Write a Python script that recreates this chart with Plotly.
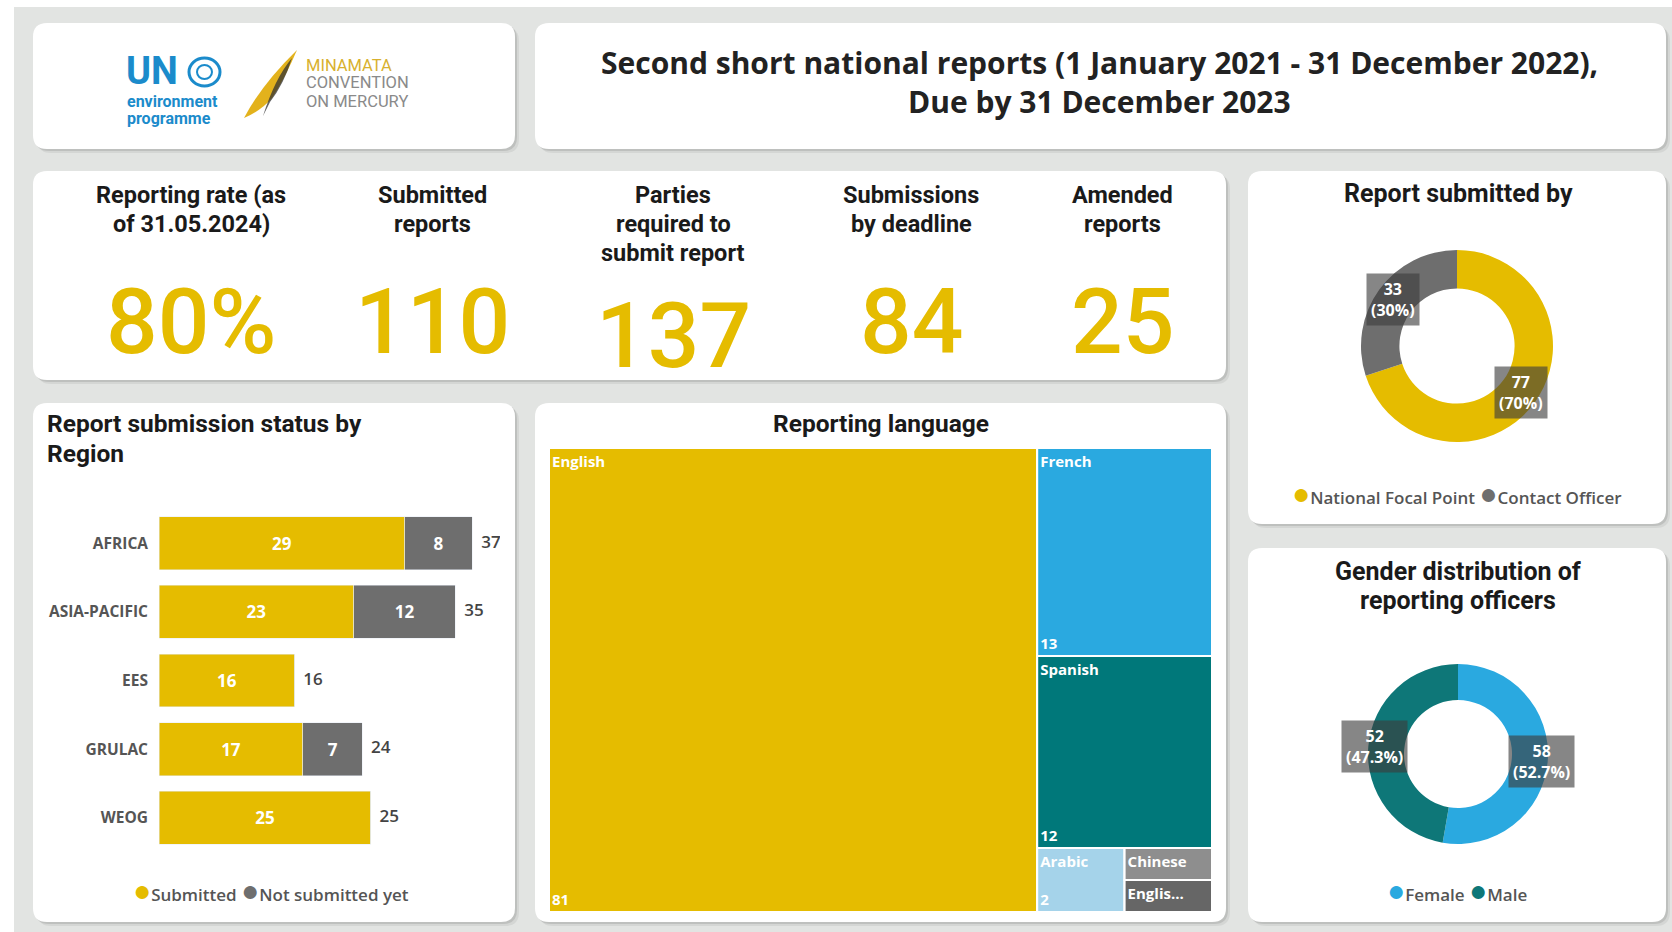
import math
import plotly.graph_objects as go

W, H = 1672, 932

# ---- data ----
kpi_titles = ["Reporting rate (as<br>of 31.05.2024)", "Submitted<br>reports",
              "Parties<br>required to<br>submit report", "Submissions<br>by deadline", "Amended<br>reports"]
kpi_values = ["80%", "110", "137", "84", "25"]

regions = ["AFRICA", "ASIA-PACIFIC", "EES", "GRULAC", "WEOG"]
submitted = [29, 23, 16, 17, 25]
not_submitted = [8, 12, 0, 7, 0]

lang_labels = ["English", "French", "Spanish", "Arabic", "Chinese", "Englis..."]
lang_values = [81, 13, 12, 2, 1, 1]

submitter_labels = ["National Focal Point", "Contact Officer"]
submitter_values = [77, 33]

gender_labels = ["Female", "Male"]
gender_values = [58, 52]

# ---- styling ----
YELLOW = "#E5BC00"
GREY = "#6E6E6E"
BG = "#E2E4E2"
lang_colors = ["#E5BC00", "#2AA9E0", "#00787A", "#A5D3EA", "#8E8E8E", "#666666"]
submitter_colors = [YELLOW, GREY]
gender_colors = ["#2AA9E0", "#0E7778"]
HEAD = "Roboto"
BODY = "Open Sans"


def fx(x):
    return x / W


def fy(y):
    return 1 - y / H


def rounded(x0, y0, x1, y1, r=14):
    rx, ry = r / W, r / H
    X0, X1, Y0, Y1 = fx(x0), fx(x1), fy(y0), fy(y1)
    return (f"M {X0+rx},{Y0} L {X1-rx},{Y0} Q {X1},{Y0} {X1},{Y0-ry} "
            f"L {X1},{Y1+ry} Q {X1},{Y1} {X1-rx},{Y1} L {X0+rx},{Y1} "
            f"Q {X0},{Y1} {X0},{Y1+ry} L {X0},{Y0-ry} Q {X0},{Y0} {X0+rx},{Y0} Z")


shapes = [dict(type="rect", xref="paper", yref="paper", x0=fx(14), x1=1, y0=0, y1=fy(7),
               fillcolor=BG, line_width=0, layer="below")]
cards = [(33, 23, 515, 149), (535, 23, 1666, 149), (33, 171, 1226, 380),
         (1248, 171, 1666, 524), (33, 403, 515, 922), (535, 403, 1226, 922),
         (1248, 548, 1666, 922)]
for (a, b, c, d) in cards:
    for off, alpha in [(4, 0.06), (2, 0.10)]:
        shapes.append(dict(type="path", xref="paper", yref="paper", layer="below",
                           path=rounded(a + off, b + off, c + off, d + off),
                           fillcolor=f"rgba(0,0,0,{alpha})", line_width=0))
    shapes.append(dict(type="path", xref="paper", yref="paper", layer="below",
                       path=rounded(a, b, c, d), fillcolor="white", line_width=0))

annotations = []


def text(t, x, y, size, color="#1a1a1a", family=HEAD, weight="bold", xanchor="center", **kw):
    annotations.append(dict(text=t, x=fx(x), y=fy(y), xref="paper", yref="paper",
                            xanchor=xanchor, yanchor="middle", showarrow=False,
                            font=dict(size=size, color=color, family=family, weight=weight), **kw))


# ---- logo ----
text("UN", 124, 71, 38, color="#1B8BCB", xanchor="left")
shapes.append(dict(type="circle", xref="paper", yref="paper", x0=fx(189), x1=fx(220), y0=fy(86), y1=fy(58),
                   line=dict(color="#1B8BCB", width=3)))
shapes.append(dict(type="circle", xref="paper", yref="paper", x0=fx(197), x1=fx(212), y0=fy(79), y1=fy(65),
                   line=dict(color="#1B8BCB", width=2)))
text("environment", 125, 101, 16, color="#1B8BCB", xanchor="left")
text("programme", 125, 118, 16, color="#1B8BCB", xanchor="left")
feather = [(244, 118), (262, 84), (297, 50), (285, 78), (272, 98), (262, 110)]
p = [(fx(a), fy(b)) for a, b in feather]
shapes.append(dict(type="path", xref="paper", yref="paper",
                   path=f"M {p[0][0]},{p[0][1]} Q {p[1][0]},{p[1][1]} {p[2][0]},{p[2][1]} "
                        f"Q {p[3][0]},{p[3][1]} {p[4][0]},{p[4][1]} Q {p[5][0]},{p[5][1]} {p[0][0]},{p[0][1]} Z",
                   fillcolor="#E3B21C", line_width=0))
q = [(fx(a), fy(b)) for a, b in [(263, 116), (275, 78), (292, 58), (284, 84), (270, 102)]]
shapes.append(dict(type="path", xref="paper", yref="paper",
                   path=f"M {q[0][0]},{q[0][1]} Q {q[1][0]},{q[1][1]} {q[2][0]},{q[2][1]} "
                        f"Q {q[3][0]},{q[3][1]} {q[4][0]},{q[4][1]} Z",
                   fillcolor="rgba(50,50,50,0.75)", line_width=0))
text("MINAMATA", 304, 65, 16.5, color="#D8B12F", weight="normal", xanchor="left")
text("CONVENTION", 304, 83, 16.5, color="#8A8A8A", weight="normal", xanchor="left")
text("ON MERCURY", 304, 101, 16.5, color="#8A8A8A", weight="normal", xanchor="left")

# ---- main title ----
text("Second short national reports (1 January 2021 - 31 December 2022),", 1099, 62, 30, family=BODY, color="#222")
text("Due by 31 December 2023", 1099, 102, 30, family=BODY, color="#222")

# ---- KPIs ----
kpi_x = [191, 432, 673, 911, 1122]
for t, v, cx in zip(kpi_titles, kpi_values, kpi_x):
    lines = t.split("<br>")
    for i, ln in enumerate(lines):
        text(ln, cx, 195 + 29 * i, 23.5)
    text(v, cx, 322 + 14 * (len(lines) - 2), 91, color=YELLOW, weight=500)

# ---- card titles ----
text("Report submission status by", 45, 423, 24.5, xanchor="left")
text("Region", 45, 454, 24.5, xanchor="left")
text("Reporting language", 881, 423, 24.5)
text("Report submitted by", 1458, 193, 25)
text("Gender distribution of", 1458, 571, 25)
text("reporting officers", 1458, 600, 25)


def legend_text(labels, colors):
    return " ".join(f"<span style='color:{c};font-size:30px'>●</span>{l}" for l, c in zip(labels, colors))


for lab, col, lx, ly in [(["Submitted", "Not submitted yet"], [YELLOW, GREY], 271, 889),
                         (submitter_labels, submitter_colors, 1457, 492),
                         (gender_labels, gender_colors, 1457, 889)]:
    text(legend_text(lab, col), lx, ly, 17, family=BODY, color="#555", weight=600)

fig = go.Figure()

# ---- bar chart ----
fig.add_trace(go.Bar(y=regions, x=submitted, orientation="h", marker_color=YELLOW,
                     text=[str(v) for v in submitted], textposition="inside", insidetextanchor="middle",
                     textfont=dict(color="white", size=17, family=BODY, weight="bold"),
                     name="Submitted", showlegend=False))
fig.add_trace(go.Bar(y=regions, x=not_submitted, orientation="h", marker_color=GREY,
                     text=[str(v) if v else "" for v in not_submitted], textposition="inside",
                     insidetextanchor="middle",
                     textfont=dict(color="white", size=17, family=BODY, weight="bold"),
                     name="Not submitted yet", showlegend=False))
totals = [a + b for a, b in zip(submitted, not_submitted)]
fig.add_trace(go.Scatter(y=regions, x=totals, mode="text", text=[f"  {t}" for t in totals],
                         textposition="middle right",
                         textfont=dict(color="#444", size=17, family=BODY, weight=600),
                         showlegend=False, hoverinfo="skip"))

# ---- treemap ----
# hidden grouping nodes so that slice/dice tiling reproduces the report layout
node_order = ["all", "English", "rest", "French", "Spanish", "small", "Arabic", "tiny", "Chinese", "Englis..."]
group_parent = {"all": "", "rest": "all", "small": "rest", "tiny": "small"}
leaf_parent = dict(zip(lang_labels, ["all", "rest", "rest", "small", "tiny", "tiny"]))
leaf_value = dict(zip(lang_labels, lang_values))
leaf_color = dict(zip(lang_labels, lang_colors))

tm_parents = [group_parent.get(n, leaf_parent.get(n)) for n in node_order]
tm_labels = [n if n in leaf_value else "" for n in node_order]
tm_values = [leaf_value.get(n, 0) for n in node_order]
tm_colors = [leaf_color.get(n, "rgba(0,0,0,0)") for n in node_order]
tm_label_tpl = ["<b>%{label}</b>" if n in leaf_value else "" for n in node_order]
tm_value_tpl = ["<b>%{value}</b>" if n in leaf_value and leaf_value[n] > 1 else "" for n in node_order]

tm_domain = dict(x=[fx(549), fx(1212)], y=[fy(912), fy(448)])
no_pad = dict(t=0, l=0, r=0, b=0)
common = dict(ids=node_order, labels=tm_labels, parents=tm_parents, values=tm_values,
              branchvalues="remainder", domain=tm_domain, sort=False,
              pathbar=dict(visible=False), tiling=dict(packing="slice-dice", pad=0),
              textfont=dict(color="white", size=15, family=BODY))
fig.add_trace(go.Treemap(**common,
                         marker=dict(colors=tm_colors, line=dict(color="white", width=2), pad=no_pad),
                         texttemplate=tm_label_tpl, textposition="top left"))
fig.add_trace(go.Treemap(**common,
                         marker=dict(colors=["rgba(0,0,0,0)"] * len(node_order), line=dict(width=0),
                                     pad=no_pad),
                         texttemplate=tm_value_tpl, textposition="bottom left", hoverinfo="skip"))


# ---- donuts ----
def donut(labels, values, colors, cx, cy, r, lab_r):
    fig.add_trace(go.Pie(labels=labels, values=values, hole=0.6, sort=False, direction="clockwise",
                         rotation=0, marker=dict(colors=colors, line=dict(width=0)), textinfo="none",
                         domain=dict(x=[fx(cx - r), fx(cx + r)], y=[fy(cy + r), fy(cy - r)]),
                         showlegend=False))
    total = sum(values)
    start = 0.0
    for v in values:
        mid = math.radians((start + v / 2) / total * 360)
        start += v
        pct = round(v / total * 100, 1)
        rl = lab_r * r
        text(f"{v}<br>({pct:g}%)", cx + rl * math.sin(mid), cy - rl * math.cos(mid), 16,
             family=BODY, color="white", weight="bold", bgcolor="rgba(60,60,60,0.62)", borderpad=4)


donut(submitter_labels, submitter_values, submitter_colors, 1457, 346, 96, 0.82)
donut(gender_labels, gender_values, gender_colors, 1458, 754, 90, 0.93)

fig.update_layout(
    width=W, height=H, margin=dict(l=0, r=0, t=0, b=0),
    paper_bgcolor="white", plot_bgcolor="rgba(0,0,0,0)",
    barmode="stack", bargap=0.23,
    xaxis=dict(domain=[fx(159), fx(500)], range=[0, 341 / 8.47], visible=False, fixedrange=True),
    yaxis=dict(domain=[fy(852), fy(509)], autorange="reversed", showgrid=False, zeroline=False,
               showline=False, ticks="", ticklabelstandoff=10,
               tickfont=dict(size=15.5, color="#555", family=BODY, weight="bold")),
    shapes=shapes, annotations=annotations, showlegend=False,
    font=dict(family=BODY),
)

fig.write_html("out.html", config={"displayModeBar": False},
               post_script="document.body.style.margin='0';")
